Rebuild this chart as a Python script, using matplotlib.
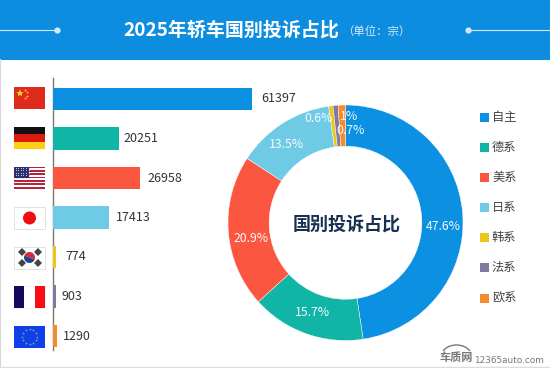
import numpy as np
import matplotlib
matplotlib.use("Agg")
import matplotlib.pyplot as plt
from matplotlib.patches import Rectangle, Circle, Wedge, Arc

plt.rcParams['font.family'] = ['Noto Sans CJK SC', 'DejaVu Sans']

categories = ["自主", "德系", "美系", "日系", "韩系", "法系", "欧系"]
complaints = [61397, 20251, 26958, 17413, 774, 903, 1290]
pie_labels = ["47.6%", "15.7%", "20.9%", "13.5%", "0.6%", "0.7%", "1%"]
colors = ["#0b90e2", "#10b5a5", "#fb5640", "#6fcae6", "#eec619", "#7f7a9f", "#f68b2c"]

W, H = 550, 368
fig = plt.figure(figsize=(W / 100, H / 100), dpi=100, facecolor="white")


def axes_px(left, top, right, bottom, **kw):
    return fig.add_axes([left / W, 1 - bottom / H, (right - left) / W, (bottom - top) / H], **kw)


# overlay in pixel coordinates for header, flags, legend
bg = axes_px(0, 0, W, H)
bg.set_xlim(0, W)
bg.set_ylim(H, 0)
bg.axis("off")

bg.add_patch(Rectangle((0, 0), W, 60, color="#0d8de0", lw=0))
bg.plot([0, 0], [60, H], color="#d8d8d8", lw=1.5)
bg.plot([0, W], [366.5, 366.5], color="#dddddd", lw=1)
bg.plot([0, 57], [30, 30], color="#cfeafa", lw=0.8)
bg.plot([468, W], [30, 30], color="#cfeafa", lw=0.8)
bg.plot([57, 468], [30, 30], ls="none", marker="o", ms=4.5, color="#cfeafa", mew=0)
bg.text(123, 30, "2025年轿车国别投诉占比", color="white", fontsize=13.7, fontweight="bold", ha="left", va="center")
bg.text(342, 32, "（单位：宗）", color="#d5ecfb", fontsize=8.2, ha="left", va="center")

# bars
bars = axes_px(53, 79.25, 252, 355.75)
y_pos = np.arange(len(categories))
bars.barh(y_pos, complaints, height=0.56, color=colors)
bars.set_xlim(0, complaints[0])
bars.set_ylim(6.5, -0.5)
bars.axis("off")
label_gap = [9, 5, 7, 6, 10, 6, 6]
for i, v in enumerate(complaints):
    bars.annotate(str(v), (v, i), xytext=(label_gap[i] * 0.72, 0), textcoords="offset points",
                  va="center", ha="left", fontsize=9, color="#333333", annotation_clip=False)
bg.plot([53, 53], [78, 350], color="#777777", lw=1, zorder=5)


def flag_china(x, y, w, h):
    bg.add_patch(Rectangle((x, y), w, h, color="#df2a1c", lw=0))
    bg.plot(x + 6, y + 6, marker="*", ms=6, color="#f8d21c", mew=0)
    for dx, dy in [(11, 2.5), (13, 5), (13, 8.5), (11, 11)]:
        bg.plot(x + dx, y + dy, marker="*", ms=2.2, color="#f8d21c", mew=0)


def flag_germany(x, y, w, h):
    for i, c in enumerate(["#111111", "#dd1a10", "#fbcf12"]):
        bg.add_patch(Rectangle((x, y + i * h / 3), w, h / 3, color=c, lw=0))


def flag_usa(x, y, w, h):
    for i in range(13):
        c = "#b3253c" if i % 2 == 0 else "white"
        bg.add_patch(Rectangle((x, y + i * h / 13), w, h / 13, color=c, lw=0))
    bg.add_patch(Rectangle((x, y), w * 0.48, h * 0.52, color="#2c2f70", lw=0))
    for sx in np.arange(x + 1.5, x + w * 0.48, 2.6):
        for sy in np.arange(y + 1.5, y + h * 0.52, 2.4):
            bg.plot(sx, sy, marker="o", ms=0.8, color="#c9cbe6", mew=0)


def flag_japan(x, y, w, h):
    bg.add_patch(Rectangle((x, y), w, h, fc="white", ec="#e2e2e2", lw=0.7))
    bg.add_patch(Circle((x + w / 2, y + h / 2), 6.5, color="#ee1010", lw=0))


def flag_korea(x, y, w, h):
    bg.add_patch(Rectangle((x, y), w, h, fc="white", ec="#e2e2e2", lw=0.7))
    cx, cy = x + w / 2, y + h / 2
    bg.add_patch(Wedge((cx, cy), 5.5, 200, 20, color="#d22c3a", lw=0))
    bg.add_patch(Wedge((cx, cy), 5.5, 20, 200, color="#24408f", lw=0))
    for dx, dy in [(-8, -5.5), (8, -5.5), (-8, 5.5), (8, 5.5)]:
        bg.plot(cx + dx, cy + dy, marker="D", ms=4, color="#444444", mew=0)


def flag_france(x, y, w, h):
    bg.add_patch(Rectangle((x, y), w, h, fc="white", ec="#eeeeee", lw=0.5))
    for i, c in [(0, "#14095e"), (2, "#f80d14")]:
        bg.add_patch(Rectangle((x + i * w / 3, y), w / 3, h, color=c, lw=0))


def flag_eu(x, y, w, h):
    bg.add_patch(Rectangle((x, y), w, h, color="#0f3fe6", lw=0))
    for a in np.arange(0, 360, 30):
        bg.plot(x + w / 2 + 7.5 * np.cos(np.radians(a)), y + h / 2 + 7.5 * np.sin(np.radians(a)),
                marker="*", ms=2.2, color="#8f9bb0", mew=0)


flags = [flag_china, flag_germany, flag_usa, flag_japan, flag_korea, flag_france, flag_eu]
for fn, cy in zip(flags, [98, 138, 177.5, 218, 257.5, 296.5, 336.5]):
    fn(14, cy - 11, 31, 22)

# donut
donut = axes_px(228, 105, 463, 340.5)
donut.pie(complaints, colors=colors, startangle=90, counterclock=False, radius=1,
          wedgeprops={"width": 0.35, "edgecolor": "white", "linewidth": 0.3})
donut.set_aspect("auto")
donut.set_xlim(-1, 1)
donut.set_ylim(-1, 1)
label_xy = [(443, 227), (312, 312), (251, 238), (286, 145), (319, 118), (351, 130), (349, 117)]
for s, (px, py) in zip(pie_labels, label_xy):
    fig.text(px / W, 1 - py / H, s, color="#f4fbff", fontsize=8.8, ha="center", va="center", zorder=10)

fig.text(346.5 / W, 1 - 225 / H, "国别投诉占比", color="#16304f", fontsize=13, fontweight="bold",
         ha="center", va="center", zorder=10)

# legend
for name, c, ly in zip(categories, colors, [117, 147, 177, 207, 237, 267, 298]):
    bg.add_patch(Rectangle((479.5, ly - 4.5), 9, 9, color=c, lw=0))
    bg.text(492, ly, name, color="#444444", fontsize=8.8, ha="left", va="center")

# watermark
bg.add_patch(Arc((456.5, 356), 30, 22, theta1=200, theta2=340, color="#777777", lw=1))
bg.text(456, 358, "车质网", color="#777777", fontsize=8, fontweight="bold", ha="center", va="center")
bg.text(474, 360.5, "12365auto.com", color="#777777", fontsize=6.4, family="DejaVu Sans", ha="left", va="center")

fig.savefig("out.png", dpi=100)
